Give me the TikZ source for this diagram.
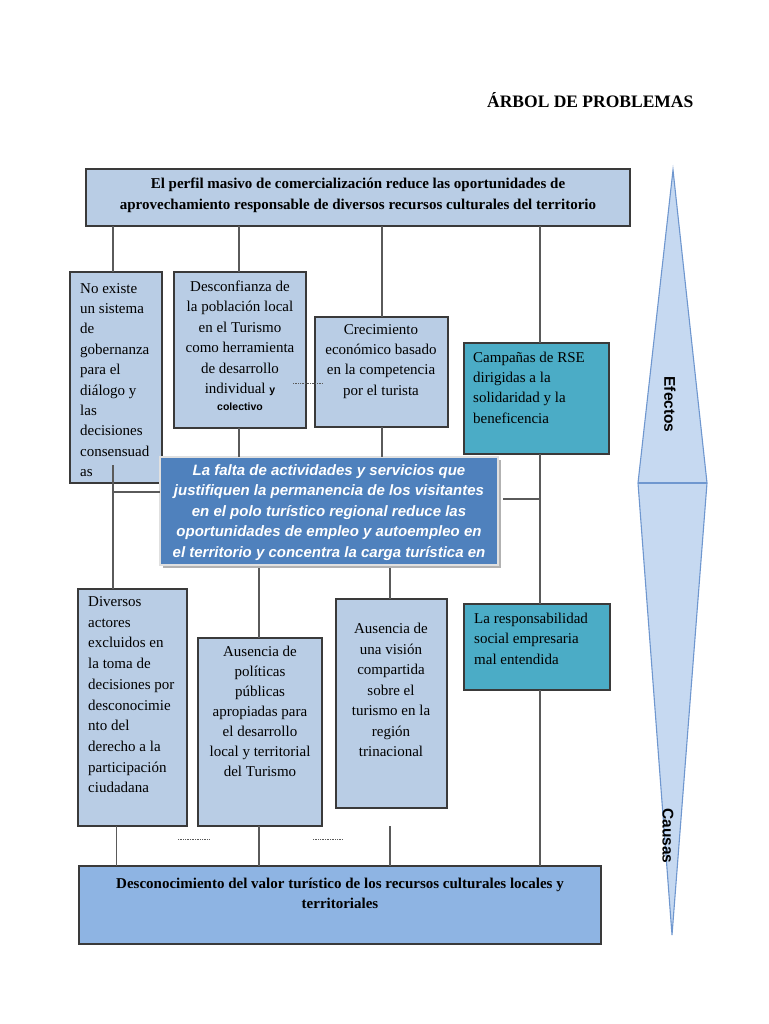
\documentclass[tikz,border=0pt]{standalone}
\usepackage{fontspec}
\setmainfont{Liberation Serif}
\setsansfont{Liberation Sans}
\usetikzlibrary{shadows}
\definecolor{boxblue}{HTML}{B9CDE5}
\definecolor{tealbox}{HTML}{4BACC6}
\definecolor{coreblue}{HTML}{4F81BD}
\definecolor{rootblue}{HTML}{8EB4E3}
\definecolor{arrowfill}{HTML}{C6D9F1}
\definecolor{arrowline}{HTML}{6F97CF}
\definecolor{boxline}{HTML}{3A3A3A}
\definecolor{linegray}{HTML}{5A5A5A}
\begin{document}
\begin{tikzpicture}[x=1pt,y=-1pt,
  box/.style={draw=boxline, line width=1.1pt, fill=boxblue, anchor=north west, inner sep=0pt, outer sep=0pt},
  tbox/.style={box, fill=tealbox},
  txt/.style={inner sep=0pt, font=\fontsize{15}{20.4}\selectfont},
  btxt/.style={inner sep=0pt, font=\fontsize{15}{20.6}\selectfont\bfseries},
  coretxt/.style={inner sep=0pt, text=white, font=\fontsize{15}{20.5}\selectfont\sffamily\bfseries\itshape},
  conn/.style={draw=linegray, line width=1.2pt},
  dots/.style={draw=linegray, line width=0.8pt, dash pattern=on 0.7pt off 1pt},
  side/.style={inner sep=0pt, font=\fontsize{15.5}{18}\selectfont\sffamily\bfseries, rotate=-90}
]
\useasboundingbox (0,0) rectangle (768,1024);
\fill[white] (0,0) rectangle (768,1024);

% title
\node[inner sep=0pt, anchor=base west, font=\fontsize{17.5}{20}\selectfont\bfseries] (title) at (487,108) {ÁRBOL DE PROBLEMAS};

% boxes
\node[box, minimum width=544pt, minimum height=57pt] (top) at (86,169) {};
\node[box, minimum width=92pt, minimum height=211pt] (e1) at (70,272) {};
\node[box, minimum width=132pt, minimum height=156pt] (e2) at (174,272) {};
\node[box, minimum width=133pt, minimum height=110pt] (e3) at (315,317) {};
\node[tbox, minimum width=145pt, minimum height=111pt] (e4) at (464,343) {};
\node[box, fill=coreblue, draw=white!88!black, line width=1.2pt, minimum width=338pt, minimum height=108pt,
  drop shadow={shadow xshift=3pt, shadow yshift=-3pt, fill=black!30, opacity=1}] (core) at (160,457) {};
\node[box, minimum width=109pt, minimum height=237pt] (c1) at (78,589) {};
\node[box, minimum width=124pt, minimum height=188pt] (c2) at (198,638) {};
\node[box, minimum width=111pt, minimum height=209pt] (c3) at (336,599) {};
\node[tbox, minimum width=146pt, minimum height=86pt] (c4) at (464,604) {};
\node[box, fill=rootblue, minimum width=522pt, minimum height=78pt] (root) at (79,866) {};

% texts (anchor base = baseline of the last line)
\node[btxt, anchor=base, align=center] (topt) at (358,209.6) {El perfil masivo de comercialización reduce las oportunidades de\\aprovechamiento responsable de diversos recursos culturales del territorio};
\node[txt, anchor=base west, align=left] (e1t) at (80,476.6) {No existe\\un sistema\\de\\gobernanza\\para el\\diálogo y\\las\\decisiones\\consensuad\\as};
\node[txt, anchor=base, align=center] (e2t) at (240,410.9) {Desconfianza de\\la población local\\en el Turismo\\como herramienta\\de desarrollo\\individual {\sffamily\bfseries\fontsize{10.5}{12}\selectfont y}\\[-3pt]{\sffamily\bfseries\fontsize{10.5}{12}\selectfont colectivo}};
\node[txt, anchor=base, align=center] (e3t) at (381,395.2) {Crecimiento\\económico basado\\en la competencia\\por el turista};
\node[txt, anchor=base west, align=left] (e4t) at (473,423.2) {Campañas de RSE\\dirigidas a la\\solidaridad y la\\beneficencia};
\node[coretxt, anchor=base, align=center] (coret) at (329,557) {La falta de actividades y servicios que\\justifiquen la permanencia de los visitantes\\en el polo turístico regional reduce las\\oportunidades de empleo y autoempleo en\\el territorio y concentra la carga turística en};
\node[txt, font=\fontsize{15}{20.7}\selectfont, anchor=base west, align=left] (c1t) at (88,792.8) {Diversos\\actores\\excluidos en\\la toma de\\decisiones por\\desconocimie\\nto del\\derecho a la\\participación\\ciudadana};
\node[txt, font=\fontsize{15}{20.1}\selectfont, anchor=base, align=center] (c2t) at (260,776.6) {Ausencia de\\políticas\\públicas\\apropiadas para\\el desarrollo\\local y territorial\\del Turismo};
\node[txt, font=\fontsize{15}{20.55}\selectfont, anchor=base, align=center] (c3t) at (391,756.8) {Ausencia de\\una visión\\compartida\\sobre el\\turismo en la\\región\\trinacional};
\node[txt, anchor=base west, align=left] (c4t) at (474,664.3) {La responsabilidad\\social empresaria\\mal entendida};
\node[btxt, anchor=base, align=center] (roott) at (340,908.6) {Desconocimiento del valor turístico de los recursos culturales locales y\\territoriales};

% connector x positions
\coordinate (xa) at (113,0);
\coordinate (xb) at (239,0);
\coordinate (xc) at (382,0);
\coordinate (xd) at (540,0);
\coordinate (xe) at (116.5,0);
\coordinate (xf) at (259,0);
\coordinate (xg) at (390,0);

\draw[conn] (top.south -| xa) -- (e1.north -| xa);
\draw[conn] (top.south -| xb) -- (e2.north -| xb);
\draw[conn] (top.south -| xc) -- (e3.north -| xc);
\coordinate (tka) at (382,240); \coordinate (tkb) at (382,256);
\draw[conn, line width=2.4pt] (tka) -- (tkb);
\draw[conn] (top.south -| xd) -- (e4.north -| xd);
\draw[conn] (e2.south -| xb) -- (core.north -| xb);
\draw[conn] (e3.south -| xc) -- (core.north -| xc);
\coordinate (ja) at (113,465);
\draw[conn] (ja) -- (c1.north -| xa);
\coordinate (jl) at (113,492);
\draw[conn] (jl) -- (jl -| core.west);
\coordinate (jr) at (540,499);
\coordinate (jrs) at (503,499);
\draw[conn] (jrs) -- (jr);
\draw[conn] (e4.south -| xd) -- (c4.north -| xd);
\draw[conn] (c4.south -| xd) -- (root.north -| xd);
\coordinate (jf) at (259,568);
\coordinate (jg) at (390,568);
\draw[conn] (jf) -- (c2.north -| xf);
\draw[conn] (jg) -- (c3.north -| xg);
\draw[conn] (c1.south -| xe) -- (root.north -| xe);
\draw[conn] (c2.south -| xf) -- (root.north -| xf);
\coordinate (jh) at (390,826);
\draw[conn] (jh) -- (root.north -| xg);

% dotted marks
\coordinate (d1a) at (293,383); \coordinate (d1b) at (323,383);
\draw[dots] (d1a) -- (d1b);
\coordinate (d2a) at (178,839); \coordinate (d2b) at (210,839);
\draw[dots] (d2a) -- (d2b);
\coordinate (d3a) at (313,839); \coordinate (d3b) at (342,839);
\draw[dots] (d3a) -- (d3b);

% side arrow
\coordinate (at) at (673,170);
\coordinate (ar) at (707,483);
\coordinate (ab) at (672,935);
\coordinate (al) at (638,483);
\draw[arrowline, fill=arrowfill, line width=1.1pt, line join=miter] (at) -- (ar) -- (ab) -- (al) -- cycle;
\draw[arrowline, line width=1.1pt] (al) -- (ar);
\node[side] (efectos) at (670,404.5) {Efectos};
\node[side] (causas) at (668,836) {Causas};
\end{tikzpicture}
\end{document}
